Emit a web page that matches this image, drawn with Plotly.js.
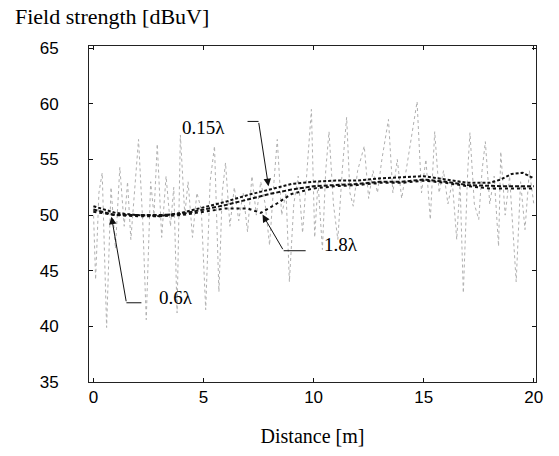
<!DOCTYPE html>
<html><head><meta charset="utf-8">
<script src="https://cdn.plot.ly/plotly-3.0.1.min.js"></script>
<style>html,body{margin:0;padding:0;background:#fff}#c{width:559px;height:456px}</style>
</head><body><div id="c"></div>
<script>
const rawDistance = [0.0,0.1,0.25,0.4,0.6,0.8,1.0,1.2,1.4,1.55,1.7,1.85,2.05,2.25,2.4,2.6,2.75,2.9,3.1,3.3,3.5,3.65,3.8,3.95,4.15,4.3,4.5,4.7,4.9,5.1,5.3,5.5,5.7,5.85,6.0,6.2,6.4,6.6,6.8,7.0,7.2,7.4,7.6,7.8,8.0,8.2,8.35,8.55,8.75,8.9,9.1,9.3,9.5,9.7,9.9,10.05,10.2,10.4,10.55,10.7,10.9,11.1,11.3,11.5,11.65,11.8,12.0,12.3,12.5,12.7,12.9,13.1,13.4,13.6,13.8,14.0,14.2,14.5,14.7,14.9,15.1,15.3,15.5,15.7,15.9,16.1,16.3,16.5,16.65,16.8,17.0,17.1,17.3,17.5,17.65,17.8,18.0,18.2,18.4,18.5,18.7,18.9,19.2,19.4,19.6,19.8,20.0];
const rawField = [50.5,44.2,52,53.8,39.9,52.5,47,54.3,49,53,47.8,52,56.8,49,40.6,53,50,56.4,48,53.5,49,52.5,41.2,57.2,50,53,48,52,50.5,41.5,53,56.2,43.1,52,54.7,49,52.5,49.5,52,48.5,53.5,50,53,51,47.3,53,56.8,50,52,44,51,53.5,48.4,54,59.5,48,53,46.9,54,57.5,51,47.8,54,58.8,52,50.8,54,56.2,51.5,54,52,55,58.6,52,55,51.5,54,57.5,60.2,52,55,49.6,57.5,52,54,51,53,47.8,53,43,54,57.4,51,49.6,54,56.6,51,53.5,47.2,55.7,50,53.5,44,53,48.7,54,51];

// Averaged field strength for three averaging lengths
const avgDistance = [0,1,2,3,4,5,6,7,8,9,10,11,12,13,14,15,16,17,18,18.5,19,19.5,20];
const avg015 = [50.8,50.2,50.0,49.9,50.2,50.7,51.2,51.8,52.3,52.8,53.0,53.1,53.1,53.3,53.4,53.5,53.2,52.9,52.9,53.2,53.7,53.8,53.3];
const avg06  = [50.5,50.0,50.0,50.0,50.1,50.5,50.9,51.4,51.9,52.3,52.6,52.7,52.8,53.0,53.0,53.2,53.0,52.7,52.6,52.6,52.6,52.6,52.6];
const dist18 = [0,1,2,3,4,5,6,7,7.6,8.3,9,10,11,12,13,14,15,16,17,18,19,20];
const avg18  = [50.3,50.0,49.9,49.9,50.0,50.3,50.6,50.6,50.2,51.0,51.9,52.4,52.6,52.7,52.9,52.9,53.1,52.9,52.6,52.4,52.4,52.4];

const xTicks = [0,5,10,15,20];
const yTicks = [35,40,45,50,55,60,65];

const traces = [
  {x: rawDistance, y: rawField, mode: 'lines', line: {color: '#b0b0b0', width: 1, dash: 'dot'}, hoverinfo: 'skip'},
  {x: avgDistance, y: avg015, mode: 'lines', line: {color: '#111', width: 2, dash: '3px,2px'}},
  {x: avgDistance, y: avg06, mode: 'lines', line: {color: '#111', width: 2, dash: '4px,2px'}},
  {x: dist18, y: avg18, mode: 'lines', line: {color: '#111', width: 2, dash: '3px,3px'}}
];

const serif = 'Liberation Serif, Times New Roman, serif';
const sans = 'Liberation Sans, Arial, sans-serif';

const arrowAnn = (x, y, ax, ay) => ({x, y, ax, ay, xref: 'x', yref: 'y', axref: 'x', ayref: 'y', text: '', showarrow: true, arrowhead: 2, arrowsize: 1.5, arrowwidth: 1, arrowcolor: '#111'});
const textAnn = (x, y, t) => ({x, y, xref: 'x', yref: 'y', text: t, showarrow: false, font: {family: serif, size: 19, color: '#000'}});
const seg = (x0, x1, y) => ({type: 'line', xref: 'x', yref: 'y', x0, x1, y0: y, y1: y, line: {color: '#111', width: 1}});

const layout = {
  width: 559, height: 456,
  margin: {l: 89, r: 23, t: 46, b: 74},
  paper_bgcolor: '#fff', plot_bgcolor: '#fff',
  showlegend: false,
  xaxis: {
    range: [-0.2, 20.1], tickvals: xTicks, ticktext: xTicks.map(String),
    ticks: 'inside', ticklen: 4, tickcolor: '#111',
    showline: true, linecolor: '#222', linewidth: 1, mirror: 'ticks',
    showgrid: false, zeroline: false,
    tickfont: {family: sans, size: 17, color: '#000'},
    title: {text: 'Distance [m]', font: {family: serif, size: 20, color: '#000'}, standoff: 22}
  },
  yaxis: {
    range: [35, 65.2], tickvals: yTicks, ticktext: yTicks.map(String),
    ticks: 'inside', ticklen: 4, tickcolor: '#111',
    showline: true, linecolor: '#222', linewidth: 1, mirror: 'ticks',
    showgrid: false, zeroline: false, ticklabelstandoff: 26,
    tickfont: {family: sans, size: 17, color: '#000'}
  },
  annotations: [
    {xref: 'paper', yref: 'paper', x: -0.17, y: 1.087, xanchor: 'left', yanchor: 'middle', text: 'Field strength [dBuV]', showarrow: false, font: {family: serif, size: 22, color: '#000'}},
    textAnn(5.0, 57.9, '0.15λ'),
    arrowAnn(7.95, 52.6, 7.5, 58.42),
    textAnn(3.73, 42.57, '0.6λ'),
    arrowAnn(0.82, 49.86, 1.5, 42.12),
    textAnn(11.23, 47.34, '1.8λ'),
    arrowAnn(7.68, 50.05, 8.64, 46.8)
  ],
  shapes: [seg(7.0, 7.5, 58.42), seg(1.5, 2.18, 42.12), seg(8.64, 9.64, 46.8)]
};

Plotly.newPlot('c', traces, layout, {displayModeBar: false, staticPlot: true});
</script></body></html>
